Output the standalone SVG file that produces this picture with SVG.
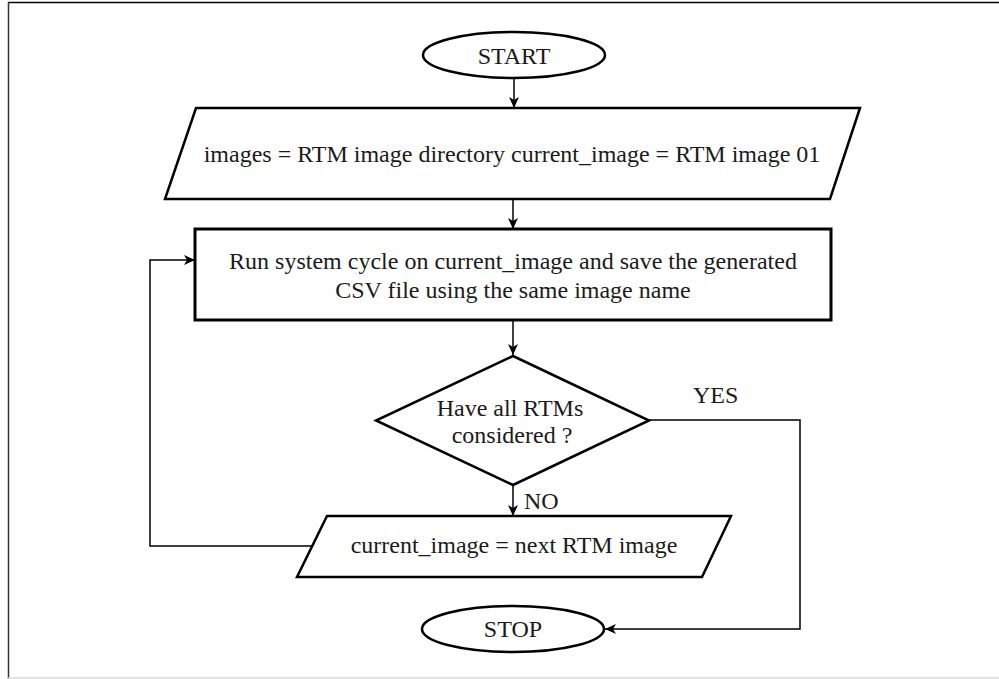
<svg xmlns="http://www.w3.org/2000/svg" width="999" height="679" viewBox="0 0 999 679">
<style>
.shape{fill:#fff;stroke:#000;stroke-width:2.5;stroke-linejoin:miter}
.box{fill:#fff;stroke:#000;stroke-width:3}
.conn{fill:none;stroke:#000;stroke-width:1.5}
.t{font-size:24px;fill:#1a1a1a;text-anchor:middle}
.lbl{font-size:24px;fill:#1a1a1a}
</style>
<defs>
<marker id="arr" markerUnits="userSpaceOnUse" markerWidth="12" markerHeight="10" refX="11" refY="5" orient="auto">
<path d="M0,0 L11,5 L0,10 L3,5 z" fill="#000"/>
</marker>
</defs>
<rect width="999" height="679" fill="#fff"/>
<g id="frame">
<line x1="8" y1="2.5" x2="999" y2="2.5" stroke="#000" stroke-width="1.3"/>
<line x1="8.5" y1="2" x2="8.5" y2="679" stroke="#333" stroke-width="1.5"/>
<line x1="8" y1="678" x2="999" y2="678" stroke="#d8d8d8" stroke-width="1.5"/>
</g>
<g font-family="'Liberation Serif', 'DejaVu Serif', serif">
<g id="connectors">
<path class="conn" d="M514,78 L514,108" marker-end="url(#arr)"/>
<path class="conn" d="M513,199 L513,229" marker-end="url(#arr)"/>
<path class="conn" d="M513,320 L513,355" marker-end="url(#arr)"/>
<path class="conn" d="M513,485 L513,516" marker-end="url(#arr)"/>
<path class="conn" d="M649,420 L800,420 L800,629 L605,629" marker-end="url(#arr)"/>
<path class="conn" d="M312,546 L150,546 L150,260 L195,260" marker-end="url(#arr)"/>
<text class="lbl" x="693" y="403">YES</text>
<text class="lbl" x="524" y="509">NO</text>
</g>
<g id="start">
<ellipse class="shape" cx="514" cy="55" rx="91" ry="23"/>
<text class="t" x="514" y="64">START</text>
</g>
<g id="init">
<polygon class="shape" points="196,108 860,108 830,199 165,199"/>
<text class="t" x="512" y="162">images = RTM image directory current_image = RTM image 01</text>
</g>
<g id="run">
<rect class="box" x="195" y="229" width="636" height="91"/>
<text class="t" x="513" y="269">Run system cycle on current_image and save the generated</text>
<text class="t" x="513" y="298">CSV file using the same image name</text>
</g>
<g id="decision">
<polygon class="shape" points="513,356 649,420.5 513,485 376,420.5"/>
<text class="t" x="510" y="416">Have all RTMs</text>
<text class="t" x="512" y="443">considered ?</text>
</g>
<g id="next">
<polygon class="shape" points="327,516 731,516 702,577 297,577"/>
<text class="t" x="514" y="553">current_image = next RTM image</text>
</g>
<g id="stop">
<ellipse class="shape" cx="513" cy="629" rx="91" ry="23"/>
<text class="t" x="513" y="637">STOP</text>
</g>
</g>
</svg>
